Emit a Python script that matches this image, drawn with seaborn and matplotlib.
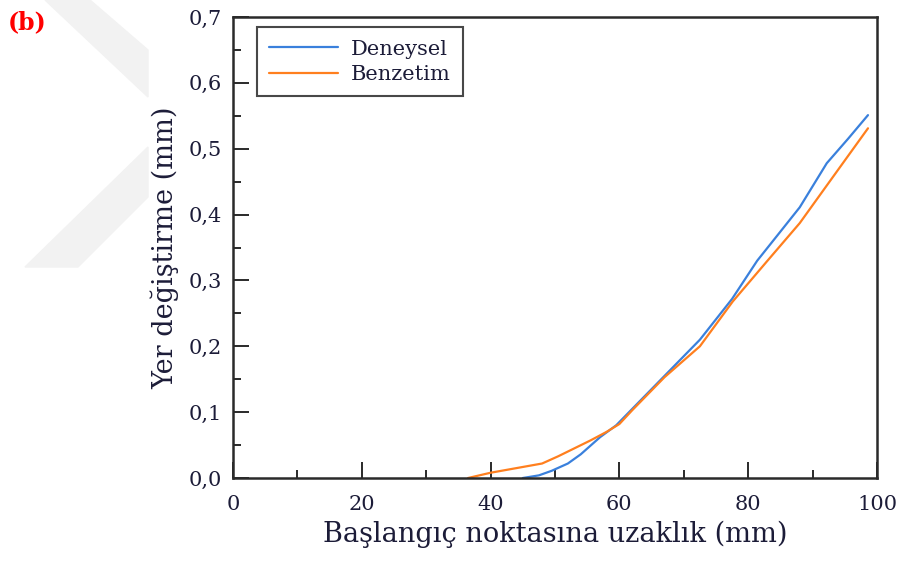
import numpy as np
import pandas as pd
import matplotlib
matplotlib.use("Agg")
import matplotlib.pyplot as plt
from matplotlib.patches import Polygon
import seaborn as sns

# Measured (Deneysel) and simulated (Benzetim) displacement along the path
x_deneysel = [45.0, 47.5, 49.5, 52.0, 54.0, 57.0, 59.5, 62.0, 67.5, 72.5, 77.5,
              81.4, 84.5, 88.0, 92.2, 95.5, 98.6]
y_deneysel = [0.000, 0.004, 0.011, 0.022, 0.036, 0.062, 0.080, 0.105, 0.160, 0.210,
              0.272, 0.330, 0.368, 0.411, 0.478, 0.515, 0.551]
x_benzetim = [36.5, 40.0, 44.0, 48.0, 50.5, 53.0, 55.5, 58.0, 60.0, 62.0, 67.0,
              72.5, 77.6, 83.0, 88.0, 93.0, 98.6]
y_benzetim = [0.000, 0.008, 0.015, 0.022, 0.033, 0.045, 0.057, 0.070, 0.082, 0.103,
              0.153, 0.200, 0.268, 0.330, 0.387, 0.455, 0.531]

series_names = ["Deneysel", "Benzetim"]
series_colors = ["#3a80dc", "#ff7f1e"]

x_ticks = [0, 20, 40, 60, 80, 100]
y_ticks = [0.0, 0.1, 0.2, 0.3, 0.4, 0.5, 0.6, 0.7]
y_tick_labels = ["0,0", "0,1", "0,2", "0,3", "0,4", "0,5", "0,6", "0,7"]

x_label = "Başlangıç noktasına uzaklık (mm)"
y_label = "Yer değiştirme (mm)"
panel_label = "(b)"

df = pd.concat([
    pd.DataFrame({"x": x_deneysel, "y": y_deneysel, "seri": series_names[0]}),
    pd.DataFrame({"x": x_benzetim, "y": y_benzetim, "seri": series_names[1]}),
], ignore_index=True)

sns.set_style("ticks")
plt.rcParams["font.family"] = ["DejaVu Serif"]

text_col = "#1c1c38"
fig = plt.figure(figsize=(9.01, 5.62), dpi=100)

# faint background chevron mark on the left margin
chev_col = "#f2f2f2"
fig.patches.append(Polygon([(45 / 901, 1), (90 / 901, 1), (148 / 901, 1 - 50 / 562),
                            (148 / 901, 1 - 97 / 562)],
                           closed=True, transform=fig.transFigure, color=chev_col, zorder=0))
fig.patches.append(Polygon([(148 / 901, 1 - 147 / 562), (148 / 901, 1 - 197 / 562),
                            (78 / 901, 1 - 267 / 562), (25 / 901, 1 - 267 / 562)],
                           closed=True, transform=fig.transFigure, color=chev_col, zorder=0))

ax = fig.add_axes([233 / 901, 1 - 478 / 562, (877 - 233) / 901, (478 - 17) / 562])

sns.lineplot(data=df, x="x", y="y", hue="seri", hue_order=series_names,
             palette=series_colors, linewidth=1.6, sort=False, estimator=None, ax=ax)

ax.set_xlim(0, 100)
ax.set_ylim(0, 0.7)
ax.set_xticks(x_ticks)
ax.set_xticks(np.arange(0, 101, 10), minor=True)
ax.set_yticks(y_ticks)
ax.set_yticklabels(y_tick_labels)
ax.set_yticks(np.arange(0, 0.701, 0.05), minor=True)

for s in ax.spines.values():
    s.set_visible(True)
    s.set_linewidth(1.8)
    s.set_color("#2a2a2a")

ax.tick_params(which="major", direction="in", length=11.5, width=1.4, color="#2a2a2a",
               labelsize=15, labelcolor=text_col)
ax.tick_params(axis="x", which="major", pad=12)
ax.tick_params(axis="y", which="major", pad=8)
ax.tick_params(which="minor", direction="in", length=5.8, width=1.4, color="#2a2a2a")

ax.set_xlabel(x_label, fontsize=19.5, color=text_col, labelpad=5)
ax.set_ylabel(y_label, fontsize=19.5, color=text_col, labelpad=7)

leg = ax.legend(loc="upper left", bbox_to_anchor=(0.037, 0.978), borderaxespad=0,
                fontsize=15, frameon=True, fancybox=False, handlelength=3.3,
                borderpad=0.6, labelspacing=0.3, handletextpad=0.6)
leg.get_frame().set_edgecolor("#1a1a1a")
leg.get_frame().set_linewidth(1.5)
for t in leg.get_texts():
    t.set_color(text_col)

fig.text(8 / 901, 1 - 22 / 562, panel_label, color="#ff0000", fontsize=17,
         fontweight="bold", va="center", ha="left")

fig.savefig("out.png", dpi=100)
